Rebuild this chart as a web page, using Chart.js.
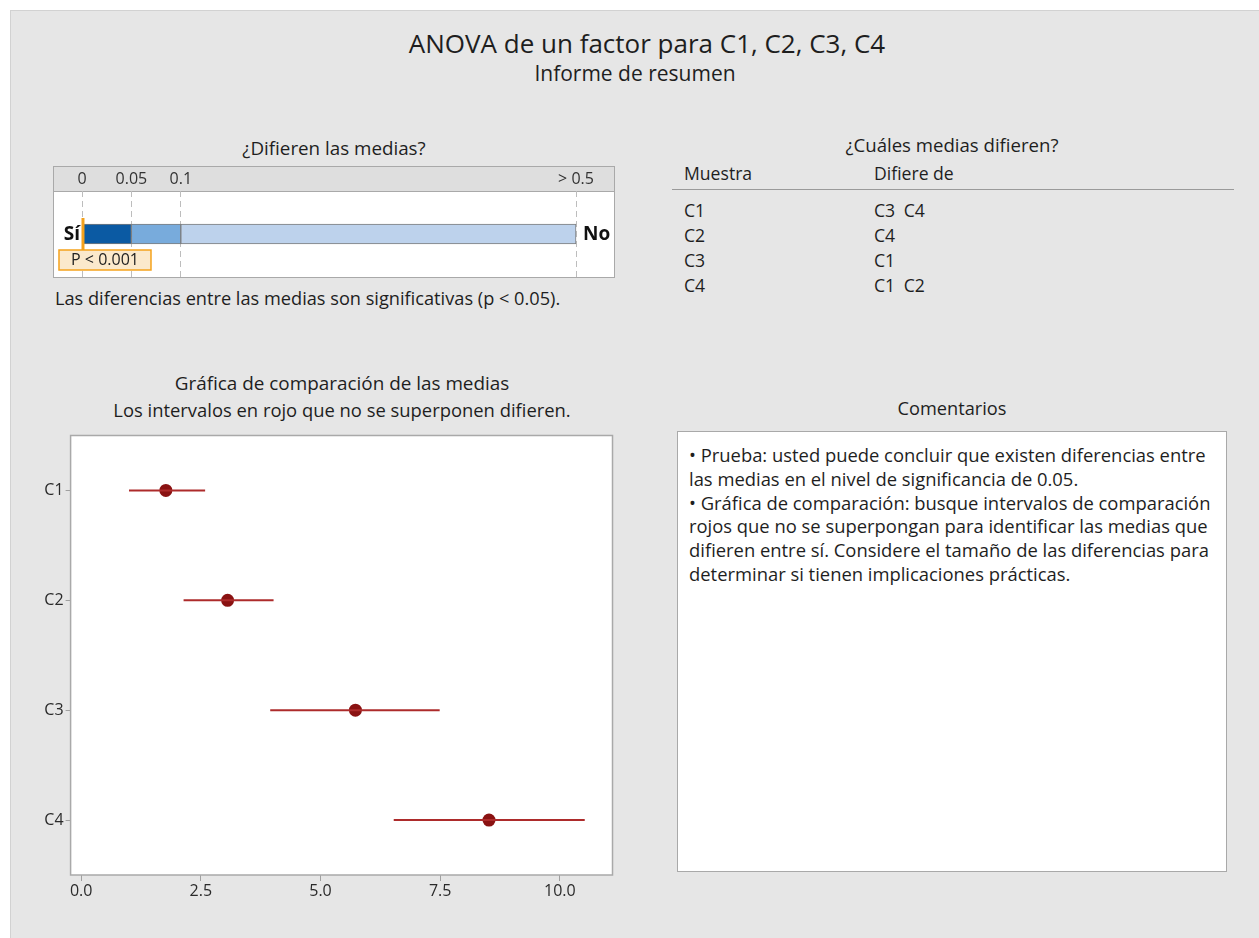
<!DOCTYPE html>
<html>
<head>
<meta charset="utf-8">
<script src="https://cdn.jsdelivr.net/npm/chart.js@4.4.1/dist/chart.umd.min.js"></script>
<style>
  body { margin: 0; width: 1259px; height: 938px; background: #fff; position: relative; overflow: hidden;
         font-family: "Open Sans", "Noto Sans", sans-serif; color: #1e1e1e; }
  #panel { position: absolute; left: 10px; top: 10px; right: 0; bottom: 0; background: #e6e6e6;
           border-top: 1px solid #d2d2d2; border-left: 1px solid #d2d2d2; }
  .t { position: absolute; white-space: nowrap; line-height: 24px; }
  .c { transform: translateX(-50%); }
  #meter_box { position: absolute; left: 53px; top: 166px; width: 560px; height: 110px; border: 1px solid #a9a9a9; }
  #cmp_box { position: absolute; left: 30px; top: 429px; width: 590px; height: 476px; }
  #rule { position: absolute; left: 672px; top: 189px; width: 562px; height: 0; border-top: 1.5px solid #9a9a9a; }
  #comments { position: absolute; left: 677px; top: 431px; width: 550px; height: 441px; background: #fff;
              border: 1px solid #a9a9a9; box-sizing: border-box; padding: 11px 0 0 11px;
              font-size: 18.4px; line-height: 23.8px; white-space: nowrap; }
</style>
</head>
<body>
<div id="panel"></div>

<div class="t c" style="left:647px; top:28px; font-size:26px; line-height:30px;">ANOVA de un factor para C1, C2, C3, C4</div>
<div class="t c" style="left:635px; top:59px; font-size:21px; line-height:28px;">Informe de resumen</div>

<div class="t c" style="left:334px; top:135px; font-size:18.8px; line-height:26px;">¿Difieren las medias?</div>
<div id="meter_box"><canvas id="meter_chart"></canvas></div>
<div class="t" style="left:55px; top:285px; font-size:18.2px; line-height:26px;">Las diferencias entre las medias son significativas (p &lt; 0.05).</div>

<div class="t c" style="left:952px; top:132px; font-size:18.6px; line-height:26px;">¿Cuáles medias difieren?</div>
<div class="t" style="left:684px; top:160px; font-size:17.6px; line-height:26px;">Muestra</div>
<div class="t" style="left:874px; top:160px; font-size:17.6px; line-height:26px;">Difiere de</div>
<div id="rule"></div>
<div id="diff_table"></div>

<div class="t c" style="left:342px; top:370px; font-size:18.9px; line-height:26px;">Gráfica de comparación de las medias</div>
<div class="t c" style="left:342px; top:397px; font-size:18.4px; line-height:26px;">Los intervalos en rojo que no se superponen difieren.</div>
<div id="cmp_box"><canvas id="cmp_chart"></canvas></div>

<div class="t c" style="left:952px; top:395px; font-size:18.2px; line-height:26px;">Comentarios</div>
<div id="comments"></div>

<script>
// p-value meter
let p_ticks = [0, 0.05, 0.1, 0.5];
let p_tick_labels = ['0', '0.05', '0.1', '> 0.5'];
let p_value = 0.001;
let p_label = 'P < 0.001';
let p_colors = ['#0b5aa3', '#78abdc', '#bdd2ec'];

// comparison intervals
let samples = ['C1', 'C2', 'C3', 'C4'];
let means = [1.77, 3.06, 5.73, 8.52];
let lower = [1.00, 2.14, 3.95, 6.53];
let upper = [2.59, 4.02, 7.49, 10.52];
let x_ticks = [0, 2.5, 5, 7.5, 10];

// which means differ
let differs_from = [['C3', 'C4'], ['C4'], ['C1'], ['C1', 'C2']];

let comment_lines = [
  '\u2022  Prueba: usted puede concluir que existen diferencias entre',
  'las medias en el nivel de significancia de 0.05.',
  '\u2022  Gráfica de comparación: busque intervalos de comparación',
  'rojos que no se superpongan para identificar las medias que',
  'difieren entre sí. Considere el tamaño de las diferencias para',
  'determinar si tienen implicaciones prácticas.'
];

Chart.defaults.font.family = '"Open Sans", "Noto Sans", sans-serif';
Chart.defaults.color = '#2a2a2a';

// piecewise scale used by the meter: 0 | 0.05 | 0.1 | ... 0.5
function pToScale(p) {
  let pos = [0, 1, 2, 10];
  for (let i = 1; i < p_ticks.length; i++) {
    if (p <= p_ticks[i]) {
      return pos[i-1] + (p - p_ticks[i-1]) / (p_ticks[i] - p_ticks[i-1]) * (pos[i] - pos[i-1]);
    }
  }
  return pos[pos.length - 1];
}

function buildTable() {
  let html = '';
  for (let i = 0; i < samples.length; i++) {
    let top = 197 + i * 25;
    html += '<div class="t" style="left:684px; top:' + top + 'px; font-size:17.6px; line-height:26px;">' + samples[i] + '</div>';
    html += '<div class="t" style="left:874px; top:' + top + 'px; font-size:17.6px; line-height:26px; word-spacing:4px;">' + differs_from[i].join(' ') + '</div>';
  }
  document.getElementById('diff_table').innerHTML = html;
  document.getElementById('comments').innerHTML = comment_lines.join('<br>');
}

let meterPlugin = {
  id: 'meterPlugin',
  beforeDraw(chart) {
    let ctx = chart.ctx, a = chart.chartArea;
    ctx.save();
    ctx.fillStyle = '#fff';
    ctx.fillRect(0, a.top, chart.width, chart.height - a.top);
    ctx.fillStyle = '#dedede';
    ctx.fillRect(0, 0, chart.width, a.top);
    ctx.strokeStyle = '#a9a9a9';
    ctx.lineWidth = 1;
    ctx.beginPath();
    ctx.moveTo(0, a.top + 0.5);
    ctx.lineTo(chart.width, a.top + 0.5);
    ctx.stroke();
    ctx.restore();
  },
  afterDatasetsDraw(chart) {
    let ctx = chart.ctx, x = chart.scales.x, y = chart.scales.y;
    let yc = y.getPixelForValue(0) + 1;
    let x0 = x.getPixelForValue(pToScale(0));
    let x1 = x.getPixelForValue(pToScale(p_ticks[p_ticks.length - 1]));
    let xp = x.getPixelForValue(pToScale(p_value));
    ctx.save();
    ctx.fillStyle = '#111';
    ctx.font = 'bold 19px "Open Sans", sans-serif';
    ctx.textBaseline = 'middle';
    ctx.textAlign = 'right';
    ctx.fillText('Sí', x0 - 2, yc);
    ctx.textAlign = 'left';
    ctx.fillText('No', x1 + 7, yc);

    // p marker and its label
    ctx.strokeStyle = '#f5a21c';
    ctx.lineWidth = 3;
    ctx.beginPath();
    ctx.moveTo(xp, yc - 17);
    ctx.lineTo(xp, yc + 15);
    ctx.stroke();
    ctx.fillStyle = '#fbe9cc';
    ctx.lineWidth = 1.5;
    ctx.fillRect(xp - 24, yc + 15, 92, 20);
    ctx.strokeRect(xp - 24, yc + 15, 92, 20);
    ctx.fillStyle = '#222';
    ctx.font = '16px "Open Sans", sans-serif';
    ctx.textAlign = 'center';
    ctx.fillText(p_label, xp + 22, yc + 25.5);
    ctx.restore();
  }
};

function createMeter() {
  let datasets = [];
  for (let i = 0; i < p_colors.length; i++) {
    datasets.push({
      label: p_tick_labels[i],
      data: [pToScale(p_ticks[i+1]) - pToScale(p_ticks[i])],
      backgroundColor: p_colors[i],
      borderColor: '#7d7d7d',
      borderWidth: 1,
      borderSkipped: false,
      barThickness: 20
    });
  }
  new Chart(document.getElementById('meter_chart'), {
    type: 'bar',
    data: { labels: ['p'], datasets: datasets },
    plugins: [meterPlugin],
    options: {
      indexAxis: 'y',
      responsive: true,
      maintainAspectRatio: false,
      animation: false,
      layout: { padding: { top: 0, bottom: -3 } },
      plugins: { legend: { display: false }, tooltip: { enabled: false } },
      scales: {
        x: {
          type: 'linear',
          position: 'top',
          stacked: true,
          min: -0.5668,
          max: 10.769,
          afterBuildTicks: function(scale) {
            scale.ticks = p_ticks.map(function(p) { return { value: pToScale(p) }; });
          },
          afterFit: function(scale) { scale.height = 24; },
          ticks: {
            padding: 2,
            font: { size: 16 },
            color: '#333',
            callback: function(v, i) { return p_tick_labels[i]; }
          },
          grid: { color: '#bdbdbd', drawTicks: false, tickLength: 0 },
          border: { display: false, dash: [6, 4] }
        },
        y: { display: false, stacked: true }
      }
    }
  });
}

let framePlugin = {
  id: 'framePlugin',
  beforeDraw(chart) {
    let a = chart.chartArea, ctx = chart.ctx;
    ctx.save();
    ctx.fillStyle = '#fff';
    ctx.fillRect(a.left, a.top, a.right - a.left, a.bottom - a.top);
    ctx.restore();
  },
  afterDraw(chart) {
    let a = chart.chartArea, ctx = chart.ctx;
    ctx.save();
    ctx.strokeStyle = '#a9a9a9';
    ctx.lineWidth = 1.5;
    ctx.strokeRect(a.left, a.top, a.right - a.left, a.bottom - a.top);
    ctx.restore();
  }
};

function createComparison() {
  let datasets = [];
  for (let i = 0; i < samples.length; i++) {
    datasets.push({
      data: [{ x: lower[i], y: samples[i] }, { x: upper[i], y: samples[i] }],
      borderColor: '#ad2b2b',
      borderWidth: 2,
      pointRadius: 0
    });
  }
  datasets.push({
    data: samples.map(function(s, i) { return { x: means[i], y: s }; }),
    showLine: false,
    pointRadius: 6.5,
    pointBackgroundColor: '#8a1212',
    pointBorderColor: '#8a1212',
    pointBorderWidth: 0
  });

  new Chart(document.getElementById('cmp_chart'), {
    type: 'line',
    data: { datasets: datasets },
    plugins: [framePlugin],
    options: {
      responsive: true,
      maintainAspectRatio: false,
      animation: false,
      layout: { padding: { top: 0, right: 7.5, left: 0, bottom: 0 } },
      plugins: { legend: { display: false }, tooltip: { enabled: false } },
      scales: {
        x: {
          type: 'linear',
          min: -0.22,
          max: 11.1,
          afterBuildTicks: function(scale) {
            scale.ticks = x_ticks.map(function(v) { return { value: v }; });
          },
          afterFit: function(scale) {
            scale.height = 30;
            scale.paddingLeft = 0;
            scale.paddingRight = 0;
          },
          ticks: {
            padding: 1,
            font: { size: 16 },
            color: '#2a2a2a',
            callback: function(v) { return v.toFixed(1); }
          },
          grid: { drawOnChartArea: false, tickLength: 6, color: '#a0a0a0' },
          border: { display: false }
        },
        y: {
          type: 'category',
          labels: samples,
          offset: true,
          afterFit: function(scale) {
            scale.width = 40.6;
            scale.paddingTop = 0;
            scale.paddingBottom = 0;
          },
          ticks: { padding: 2, font: { size: 16 }, color: '#2a2a2a' },
          grid: { drawOnChartArea: false, tickLength: 5, color: '#a0a0a0', offset: false },
          border: { display: false }
        }
      }
    }
  });
}

buildTable();
createMeter();
createComparison();
</script>
</body>
</html>
